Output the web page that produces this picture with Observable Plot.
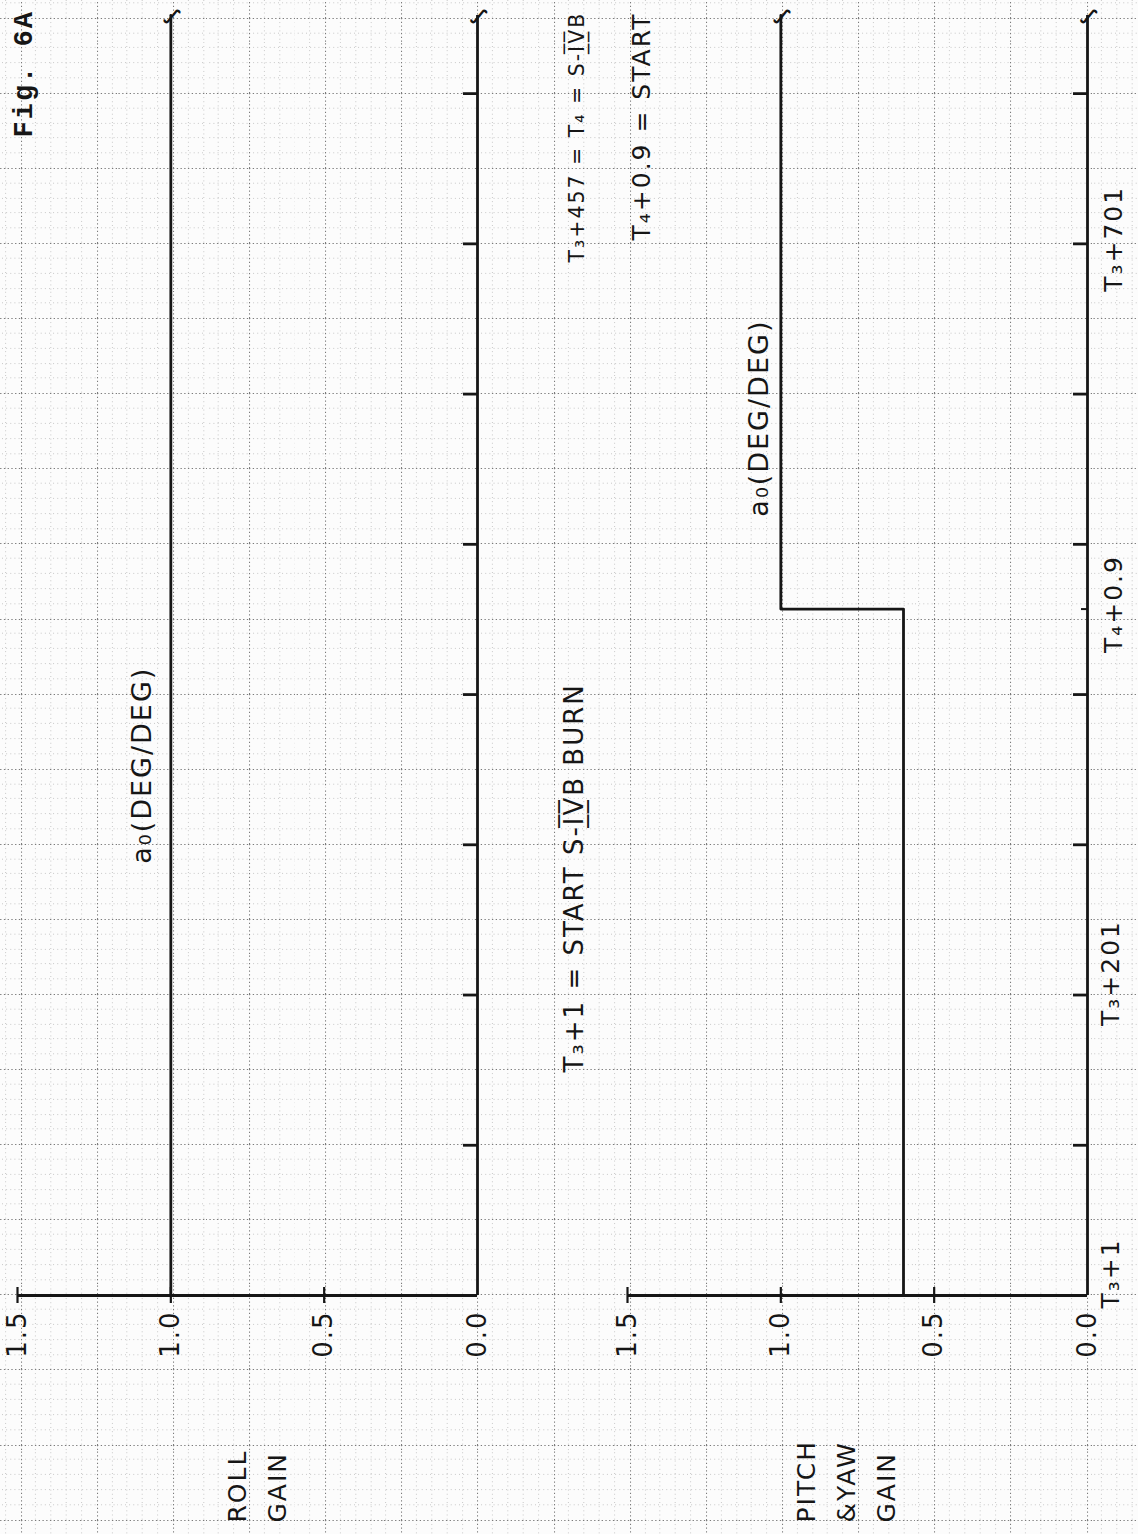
<!DOCTYPE html>
<html>
<head>
<meta charset="utf-8">
<script src="https://cdn.jsdelivr.net/npm/d3@7"></script>
<script src="https://cdn.jsdelivr.net/npm/@observablehq/plot@0.6"></script>
<style>
  html, body { margin: 0; padding: 0; background: #ffffff; }
  #chart { width: 1138px; height: 1534px; overflow: hidden; position: relative; background-color: #fcfcfc; }
</style>
</head>
<body>
<div id="chart"></div>
<script>
// ---------------- data (time in seconds after T3, gain in deg/deg) ----------------
const panels = ["roll", "pitch"];
const rollTimes = [1, 853];
const rollGain = [1.0, 1.0];
const pitchTimes = [1, 457.9, 853];
const pitchGain = [0.6, 1.0, 1.0];

const gainTicks = [1.5, 1.0, 0.5];
const gainLabels = [1.5, 1.0, 0.5, 0.0];
const timeTicks = [101, 201, 301, 401, 501, 601, 701, 801];
const stepTimes = [457.9];
const timeLabelTimes = [1, 201, 457.9, 701];
const timeLabelTexts = ["T₃+1", "T₃+201", "T₄+0.9", "T₃+701"];

const figTitle = "Fig. 6A";
const unitLabel = "a₀(DEG/DEG)";
const rollTitle = "ROLL\nGAIN";
const pitchTitle = "PITCH\n&YAW\nGAIN";
const noteBurn = "T₃+1 = START S-I̲̅V̲̅B BURN";
const noteT4 = "T₃+457 = T₄ = S-I̲̅V̲̅B";
const noteStart = "T₄+0.9 = START";

// ---------------- tables built from the arrays ----------------
const lineRows = [
  ...rollTimes.map((t, i) => ({panel: "roll", t, gain: rollGain[i]})),
  ...pitchTimes.map((t, i) => ({panel: "pitch", t, gain: pitchGain[i]}))
];
const tStart = d3.min(lineRows, d => d.t);
const tEnd = d3.max(lineRows, d => d.t);
const breakRows = [
  {panel: "roll", t: tEnd, gain: rollGain[rollGain.length - 1]},
  {panel: "roll", t: tEnd, gain: 0},
  {panel: "pitch", t: tEnd, gain: pitchGain[pitchGain.length - 1]},
  {panel: "pitch", t: tEnd, gain: 0}
];
const timeLabelRows = timeLabelTimes.map((t, i) => ({panel: "pitch", t, label: timeLabelTexts[i]}));

// ---------------- graph paper background ----------------
(function paper() {
  const W = 76.15, H = 75.1;
  let s = `<svg xmlns='http://www.w3.org/2000/svg' width='${W}' height='${H}' viewBox='0 0 ${W} ${H}'>`;
  for (let i = 1; i < 5; i++) {
    s += `<line x1='${(i * W / 5).toFixed(2)}' y1='0' x2='${(i * W / 5).toFixed(2)}' y2='${H}' stroke='#bdbdbd' stroke-width='0.9' stroke-dasharray='0.9 3.2'/>`;
    s += `<line y1='${(i * H / 5).toFixed(2)}' x1='0' y2='${(i * H / 5).toFixed(2)}' x2='${W}' stroke='#bdbdbd' stroke-width='0.9' stroke-dasharray='0.9 3.2'/>`;
  }
  s += `<line x1='0.5' y1='0' x2='0.5' y2='${H}' stroke='#7a7a7a' stroke-width='1.1' stroke-dasharray='1.3 2.4'/>`;
  s += `<line y1='0.5' x1='0' y2='0.5' x2='${W}' stroke='#7a7a7a' stroke-width='1.1' stroke-dasharray='1.3 2.4'/>`;
  s += `</svg>`;
  const el = document.getElementById("chart");
  el.style.backgroundImage = `url("data:image/svg+xml,${encodeURIComponent(s)}")`;
  el.style.backgroundSize = `${W}px ${H}px`;
  el.style.backgroundPosition = `20.6px 17.8px`;
})();

// ---------------- chart ----------------
const ink = "#161616";
const note = (panel, text, options) =>
  Plot.text([{panel, text}], {
    fx: "panel", text: "text", rotate: -90, textAnchor: "start", lineAnchor: "top",
    fontSize: 26, fill: ink, ...options
  });

const chart = Plot.plot({
  width: 1138,
  height: 1534,
  marginLeft: 17,
  marginRight: 51,
  marginTop: 15,
  marginBottom: 239,
  style: {
    background: "transparent",
    fontFamily: "'DejaVu Sans', sans-serif",
    letterSpacing: "2px",
    color: ink,
    overflow: "visible"
  },
  fx: {domain: panels, paddingInner: 150 / 610, paddingOuter: 0, axis: null, round: false},
  x: {domain: [1.5, 0], label: null},
  y: {domain: [tStart, tEnd], label: null},
  marks: [
    // gain axis and time axis lines in each panel
    Plot.ruleY([tStart], {x1: 1.5, x2: 0, stroke: ink, strokeWidth: 2.8}),
    Plot.ruleX([0], {y1: tStart, y2: tEnd, stroke: ink, strokeWidth: 2.8}),
    // gain schedules
    Plot.line(lineRows, {fx: "panel", x: "gain", y: "t", z: "panel", curve: "step-before", stroke: ink, strokeWidth: 2.8}),
    // gain ticks crossing the axis
    Plot.axisX({ticks: gainTicks, tickSize: 8, stroke: ink, strokeWidth: 2.2, fill: "none", label: null}),
    Plot.axisX({ticks: gainTicks, tickSize: -8, stroke: ink, strokeWidth: 2.2, fill: "none", label: null}),
    Plot.axisX({ticks: gainLabels, tickSize: 0, tickPadding: 15, tickRotate: -90, tickFormat: d3.format(".1f"), fontSize: 26, fill: ink, label: null}),
    // time ticks pointing inward
    Plot.axisY({anchor: "right", ticks: timeTicks, tickSize: -15, stroke: ink, strokeWidth: 2.8, fill: "none", facetAnchor: null, label: null}),
    Plot.axisY({anchor: "right", ticks: stepTimes, tickSize: -7, stroke: ink, strokeWidth: 2, fill: "none", label: null}),
    // time labels (pitch panel)
    Plot.text(timeLabelRows, {fx: "panel", y: "t", text: "label", filter: d => d.t < 300, frameAnchor: "right", dx: 14, dy: -22, rotate: -90, textAnchor: "middle", lineAnchor: "top", fontSize: 25, fill: ink}),
    Plot.text(timeLabelRows, {fx: "panel", y: "t", text: "label", filter: d => d.t >= 300, frameAnchor: "right", dx: 17, dy: -5, rotate: -90, textAnchor: "middle", lineAnchor: "top", fontSize: 25, fill: ink}),
    // break marks at the top of each line
    Plot.text(breakRows, {fx: "panel", x: "gain", y: "t", text: () => "∫", fontSize: 19, fontWeight: "bold", rotate: 35, dx: 3, dy: 1, fill: ink}),
    // unit labels beside the gain lines
    Plot.text([{panel: "roll", text: unitLabel}], {fx: "panel", text: "text", x: 1.0, y: 354, dx: -28, rotate: -90, lineAnchor: "middle", fontSize: 27, fill: ink}),
    Plot.text([{panel: "pitch", text: unitLabel}], {fx: "panel", text: "text", x: 1.0, y: 585, dx: -21, rotate: -90, lineAnchor: "middle", fontSize: 27, fill: ink}),
    // annotations
    note("roll", figTitle, {frameAnchor: "top-left", dx: -5, dy: 122, fontFamily: "'Liberation Mono', monospace", fontSize: 27, fontWeight: "bold"}),
    note("roll", noteBurn, {frameAnchor: "bottom-right", dx: 87, dy: -223}),
    note("roll", noteT4, {frameAnchor: "top-right", dx: 92, dy: 247, fontSize: 20.5}),
    note("roll", noteStart, {frameAnchor: "top-right", dx: 155, dy: 225, fontSize: 25}),
    note("roll", rollTitle, {frameAnchor: "bottom-left", dx: 200, dy: 227, fontSize: 25, lineHeight: 1.6}),
    note("pitch", pitchTitle, {frameAnchor: "bottom-left", dx: 159, dy: 227, fontSize: 25, lineHeight: 1.6})
  ]
});
document.getElementById("chart").appendChild(chart);
</script>
</body>
</html>
